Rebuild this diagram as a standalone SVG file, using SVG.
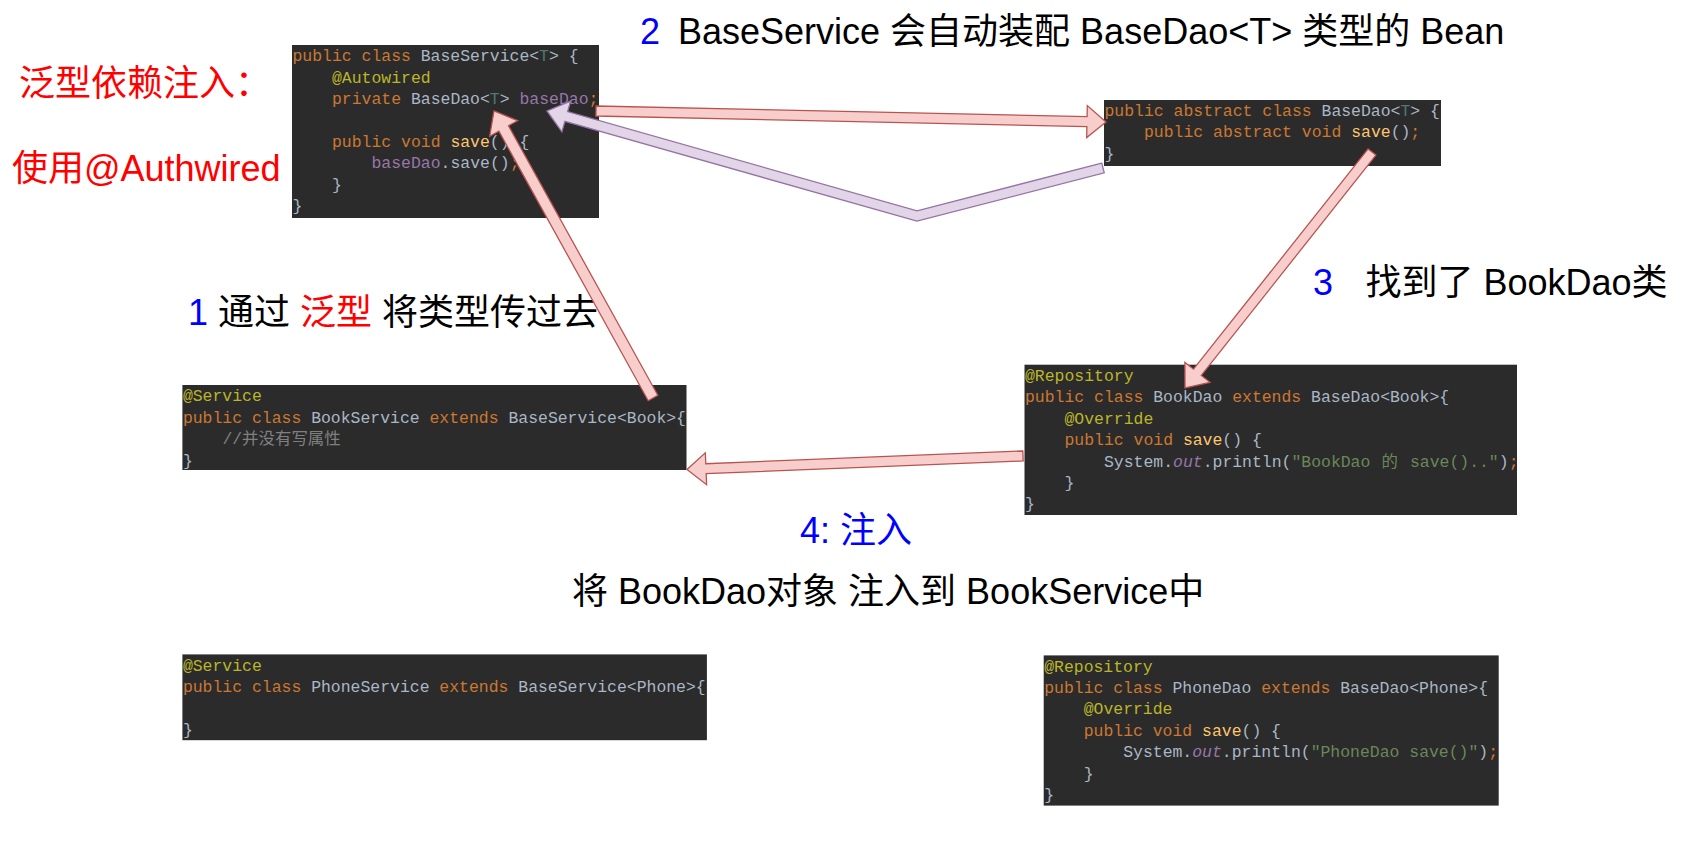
<svg xmlns="http://www.w3.org/2000/svg" width="1682" height="842" viewBox="0 0 1682 842">
<style>
.bg{fill:#2B2B2B}
.code{font-family:"Liberation Mono","Noto Sans CJK SC",monospace;font-size:16.45px;fill:#A9B7C6}
.kw{fill:#CC7832}
.pl{fill:#A9B7C6}
.an{fill:#BBB529}
.fd{fill:#9876AA}
.mt{fill:#FFC66D}
.tp{fill:#507874}
.cm{fill:#808080}
.st{fill:#6A8759}
.it{font-style:italic}
.lbl{font-family:"Liberation Sans","Noto Sans CJK SC",sans-serif;font-size:36px;fill:#000}
.red{fill:#FF0000}
.blue{fill:#0000FF}
.arr{fill:#F8CECC;stroke:#B85450;stroke-width:1.3;stroke-linejoin:miter}
.parr{fill:#E1D5E7;stroke:#9673A6;stroke-width:1.3;stroke-linejoin:miter}
</style>
<rect width="1682" height="842" fill="#FFFFFF"/>

<g id="BaseService">
<rect class="bg" x="292" y="45" width="307" height="173"/>
<text class="code" xml:space="preserve"><tspan x="292.5" y="61"><tspan class="kw">public class </tspan><tspan class="pl">BaseService&lt;</tspan><tspan class="tp">T</tspan><tspan class="pl">&gt; {</tspan></tspan><tspan x="332" y="82.5" class="an">@Autowired</tspan><tspan x="332" y="104"><tspan class="kw">private </tspan><tspan class="pl">BaseDao&lt;</tspan><tspan class="tp">T</tspan><tspan class="pl">&gt; </tspan><tspan class="fd">baseDao</tspan><tspan class="kw">;</tspan></tspan><tspan x="332" y="146.9"><tspan class="kw">public void </tspan><tspan class="mt">save</tspan><tspan class="pl">() {</tspan></tspan><tspan x="371.5" y="168.3"><tspan class="fd">baseDao</tspan><tspan class="pl">.save()</tspan><tspan class="kw">;</tspan></tspan><tspan x="332" y="189.8" class="pl">}</tspan><tspan x="292.5" y="211.2" class="pl">}</tspan></text>
</g>

<g id="BaseDao">
<rect class="bg" x="1104" y="100" width="337" height="66"/>
<text class="code" xml:space="preserve"><tspan x="1104.5" y="116"><tspan class="kw">public abstract class </tspan><tspan class="pl">BaseDao&lt;</tspan><tspan class="tp">T</tspan><tspan class="pl">&gt; {</tspan></tspan><tspan x="1144" y="137.4"><tspan class="kw">public abstract void </tspan><tspan class="mt">save</tspan><tspan class="pl">()</tspan><tspan class="kw">;</tspan></tspan><tspan x="1104.5" y="158.9" class="pl">}</tspan></text>
</g>

<g id="BookService">
<rect class="bg" x="182.4" y="385" width="504.1" height="85"/>
<text class="code" xml:space="preserve"><tspan x="182.9" y="401" class="an">@Service</tspan><tspan x="182.9" y="422.5"><tspan class="kw">public class </tspan><tspan class="pl">BookService </tspan><tspan class="kw">extends </tspan><tspan class="pl">BaseService&lt;Book&gt;{</tspan></tspan><tspan x="222.4" y="444" class="cm">//并没有写属性</tspan><tspan x="182.9" y="465.5" class="pl">}</tspan></text>
</g>

<g id="BookDao">
<rect class="bg" x="1024.5" y="364.7" width="492.5" height="150.3"/>
<text class="code" xml:space="preserve"><tspan x="1025" y="380.7" class="an">@Repository</tspan><tspan x="1025" y="402.1"><tspan class="kw">public class </tspan><tspan class="pl">BookDao </tspan><tspan class="kw">extends </tspan><tspan class="pl">BaseDao&lt;Book&gt;{</tspan></tspan><tspan x="1064.5" y="423.6" class="an">@Override</tspan><tspan x="1064.5" y="445"><tspan class="kw">public void </tspan><tspan class="mt">save</tspan><tspan class="pl">() {</tspan></tspan><tspan x="1104" y="466.5"><tspan class="pl">System.</tspan><tspan class="fd it">out</tspan><tspan class="pl">.println(</tspan><tspan class="st">"BookDao </tspan></tspan><tspan x="1381.5" y="466.5" class="st">的</tspan><tspan x="1400.1" y="466.5"><tspan class="st"> save().."</tspan><tspan class="pl">)</tspan><tspan class="kw">;</tspan></tspan><tspan x="1064.5" y="487.9" class="pl">}</tspan><tspan x="1025" y="509.4" class="pl">}</tspan></text>
</g>

<g id="PhoneService">
<rect class="bg" x="182.4" y="654.4" width="524.5" height="85.8"/>
<text class="code" xml:space="preserve"><tspan x="182.9" y="670.5" class="an">@Service</tspan><tspan x="182.9" y="692"><tspan class="kw">public class </tspan><tspan class="pl">PhoneService </tspan><tspan class="kw">extends </tspan><tspan class="pl">BaseService&lt;Phone&gt;{</tspan></tspan><tspan x="182.9" y="735" class="pl">}</tspan></text>
</g>

<g id="PhoneDao">
<rect class="bg" x="1043.7" y="655.4" width="455" height="150.2"/>
<text class="code" xml:space="preserve"><tspan x="1044.2" y="671.5" class="an">@Repository</tspan><tspan x="1044.2" y="693"><tspan class="kw">public class </tspan><tspan class="pl">PhoneDao </tspan><tspan class="kw">extends </tspan><tspan class="pl">BaseDao&lt;Phone&gt;{</tspan></tspan><tspan x="1083.7" y="714.4" class="an">@Override</tspan><tspan x="1083.7" y="735.9"><tspan class="kw">public void </tspan><tspan class="mt">save</tspan><tspan class="pl">() {</tspan></tspan><tspan x="1123.2" y="757.3"><tspan class="pl">System.</tspan><tspan class="fd it">out</tspan><tspan class="pl">.println(</tspan><tspan class="st">"PhoneDao save()"</tspan><tspan class="pl">)</tspan><tspan class="kw">;</tspan></tspan><tspan x="1083.7" y="778.8" class="pl">}</tspan><tspan x="1044.2" y="800.2" class="pl">}</tspan></text>
</g>

<g id="label-title">
<text class="lbl" y="43.5"><tspan x="640" class="blue">2</tspan><tspan x="678">BaseService 会自动装配 BaseDao&lt;T&gt; 类型的 Bean</tspan></text>
</g>
<g id="label-generic">
<text class="lbl red" x="19" y="96">泛型依赖注入：</text>
</g>
<g id="label-autowired">
<text class="lbl red" x="12" y="181">使用@Authwired</text>
</g>
<g id="label-step1">
<text class="lbl" x="188" y="324.5"><tspan class="blue">1</tspan> 通过 <tspan class="red">泛型</tspan> 将类型传过去</text>
</g>
<g id="label-step3">
<text class="lbl" y="294.5"><tspan x="1313" class="blue">3</tspan><tspan x="1365.5">找到了 BookDao类</tspan></text>
</g>
<g id="label-step4">
<text class="lbl blue" x="800" y="543">4: 注入</text>
</g>
<g id="label-inject">
<text class="lbl" x="572" y="603.5">将 BookDao对象 注入到 BookService中</text>
</g>

<g id="connectors">
<polygon class="parr" points="1101.75,163.16 917.06,210.82 567.6,111.65 570.6,101.07 547,111 561.87,131.85 564.87,121.27 916.94,221.18 1104.25,172.84"/>
<polygon class="arr" points="596.1,106 1087.1,116.6 1087.3,105.6 1106,122 1086.7,137.6 1086.9,126.6 595.9,116"/>
<polygon class="arr" points="657.8,395.3 508.5,125.8 517.7,120.7 494,111 489.7,136.2 498.9,131.2 648.2,400.7"/>
<polygon class="arr" points="1368.1,148.9 1193.5,369.2 1184.9,362.4 1185,388 1210,382.3 1201.3,375.4 1375.9,155.1"/>
<polygon class="arr" points="1022.8,451 705.8,463.7 705.3,452.8 687,469.5 706.6,484.7 706.2,473.7 1023.2,461"/>
</g>
</svg>
